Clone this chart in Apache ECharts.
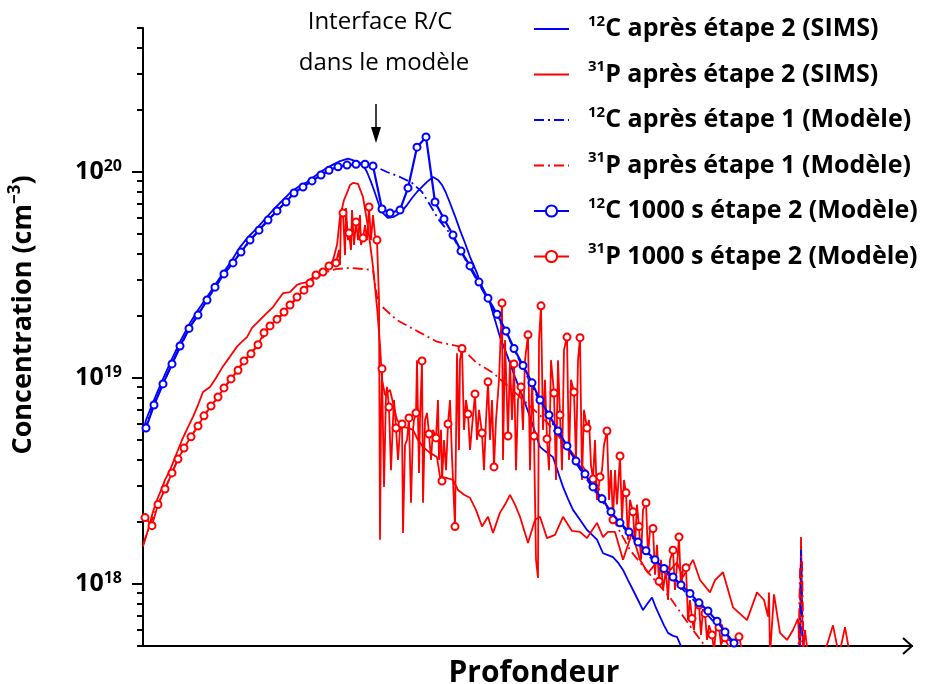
<!DOCTYPE html>
<html>
<head>
<meta charset="utf-8">
<script src="https://cdn.jsdelivr.net/npm/echarts@6/dist/echarts.min.js"></script>
<style>html,body{margin:0;padding:0;background:#fff}#c{width:925px;height:684px}</style>
</head>
<body>
<div id="c"></div>
<script>
// ---------------- DATA (x = depth, arbitrary units; y = concentration, cm^-3) ----------------
const seriesNames = [
  '12C après étape 2 (SIMS)',
  '31P après étape 2 (SIMS)',
  '12C après étape 1 (Modèle)',
  '31P après étape 1 (Modèle)',
  '12C 1000 s étape 2 (Modèle)',
  '31P 1000 s étape 2 (Modèle)'
];
const xAxisName = 'Profondeur';
const yAxisName = 'Concentration (cm';
const yAxisNameSup = '−3';
const annotationLines = ['Interface R/C', 'dans le modèle'];
const interfaceDepth = 233;
const depthMax = 769;
const yMin = 5e17, yMax = 5e20;

const cSims = [
  [0,5.47e18],[3,6.25e18],[7,7.0e18],[14,8.46e18],[22,1.04e19],[30,1.27e19],[38,1.53e19],[47,1.85e19],
  [55,2.14e19],[64,2.47e19],[72,2.83e19],[80,3.23e19],[89,3.74e19],[97,4.32e19],[105,4.83e19],[114,5.34e19],
  [122,5.91e19],[130,6.54e19],[139,7.23e19],[147,7.91e19],[155,8.46e19],[164,8.95e19],[172,9.56e19],[180,1.02e20],
  [189,1.08e20],[197,1.13e20],[205,1.16e20],[215,1.12e20],[220,1.08e20],[224,1.00e20],[228,8.95e19],[232,7.91e19],
  [236,6.91e19],[239,6.39e19],[245,5.98e19],[250,6.04e19],[254,6.18e19],[259,6.47e19],[264,6.91e19],[269,7.48e19],
  [274,8.0e19],[279,8.46e19],[284,8.95e19],[290,9.46e19],[295,9.15e19],[299,8.65e19],[303,7.91e19],[307,7.07e19],
  [312,6.11e19],[317,5.22e19],[322,4.52e19],[327,3.87e19],[334,3.23e19],
  [337,2.92e19],[342,2.58e19],[347,2.31e19],[352,1.91e19],[357,1.58e19],[362,1.37e19],[367,1.18e19],[372,1.01e19],
  [377,8.75e18],[382,7.56e18],[387,6.47e18],[392,5.47e18],[397,4.63e18],[403,4.38e18],[410,4.13e18],[415,3.50e18],
  [420,2.96e18],[425,2.59e18],[430,2.29e18],[437,2.05e18],[444,1.83e18],[454,1.64e18],[460,1.41e18],[465,1.38e18],
  [470,1.35e18],[475,1.27e18],[480,1.17e18],[485,1.045e18],[490,9.35e17],[495,8.36e17],[500,7.47e17],[505,8.1e17],
  [509,8.6e17],[513,7.65e17],[517,6.95e17],[521,6.3e17],[525,5.79e17],[530,5.6e17],[534,5.54e17],[537,5.12e17],[541,4.7e17]
];

const pSims = [
  [0,1.52e18],[5,1.83e18],[10,2.24e18],[14,2.56e18],[19,2.92e18],[22,3.2e18],[27,3.57e18],[33,4.23e18],[39,5.0e18],
  [45,5.78e18],[50,6.47e18],[55,7.39e18],[60,8.55e18],[67,9.05e18],[73,1.0e19],[79,1.12e19],[87,1.27e19],[94,1.42e19],
  [99,1.50e19],[104,1.58e19],[109,1.75e19],[114,1.85e19],[119,1.96e19],[124,2.07e19],[130,2.21e19],[135,2.39e19],
  [140,2.58e19],[147,2.61e19],[154,2.83e19],[159,2.89e19],[164,2.92e19],[169,3.06e19],[174,3.16e19],[179,3.27e19],
  [184,3.34e19],[190,3.74e19],[194,4.42e19],[197,6.04e19],[201,7.31e19],[204,7.91e19],[207,8.65e19],[210,8.85e19],
  [215,8.75e19],[220,7.56e19],[225,5.40e19],[230,3.46e19],[234,2.21e19],[237,1.45e19],[239,9.8e18],[242,8.27e18],
  [247,8.75e18],[254,6.25e18],[260,5.78e18],[265,5.72e18],[270,5.6e18],[275,5.0e18],[280,4.63e18],[287,4.33e18],
  [294,4.13e18],[297,3.31e18],[304,3.27e18],[310,3.2e18],[315,2.86e18],[321,2.71e18],[327,2.62e18],[333,2.29e18],
  [339,1.90e18],[345,2.12e18],[350,1.77e18],[357,2.22e18],[362,2.43e18],[367,2.71e18],[372,2.43e18],[377,2.12e18],
  [385,1.58e18],[392,2.05e18],[397,2.12e18],[404,1.67e18],[412,1.73e18],[420,2.12e18],[429,1.81e18],[437,1.79e18],
  [444,1.67e18],[454,1.98e18],[460,1.69e18],[465,1.79e18],[472,1.79e18],[480,1.31e18],[489,1.77e18],[497,1.31e18],
  [505,1.13e18],[514,1.28e18],[524,1.13e18],[534,1.27e18],[540,1.08e18],[550,1.31e18],[557,1.045e18],[567,9.1e17],
  [572,1.045e18],[580,1.14e18],[590,7.7e17],[604,6.68e17],[614,9.1e17],[621,8.36e17],[625,6.95e17],[626,9.1e17],
  [627,4.5e17],[631,8.9e17],[637,5.79e17],[644,5.35e17],[650,5.98e17],[655,6.8e17],[657,4.5e17],[658,1.69e18],
  [660,4.5e17],[662,5.98e17],[665,4.5e17],[677,4.5e17],[684,5.05e17],[690,6.3e17],[696,4.5e17],[702,6.17e17],[707,4.5e17]
];

const cStep1 = [
  [0,5.47e18],[12,7.65e18],[29,1.17e19],[47,1.77e19],[64,2.39e19],[81,3.2e19],[98,4.09e19],[116,5.22e19],
  [134,6.47e19],[151,7.91e19],[169,9.05e19],[186,1.02e20],[204,1.08e20],[222,1.09e20],[231,1.07e20],[244,1.0e20],
  [257,9.46e19],[269,8.85e19],[279,8.0e19],[287,6.91e19],[296,5.84e19],[310,4.83e19],[327,3.42e19],[345,2.39e19],
  [363,1.66e19],[380,1.12e19],[397,7.65e18],[415,5.41e18],[433,3.87e18],[450,2.9e18],[468,2.2e18],[486,1.75e18],
  [503,1.41e18],[521,1.16e18],[538,9.6e17],[556,7.85e17],[574,6.3e17],[591,5.0e17],[607,4.3e17],[656,3e17],
  [658,1.46e18],[660,3e17]
];

const pStep1 = [
  [0,1.55e18],[7,1.94e18],[15,2.43e18],[22,2.89e18],[35,4.04e18],[48,5.18e18],[61,6.55e18],[75,8.09e18],
  [88,9.9e18],[101,1.21e19],[115,1.45e19],[127,1.77e19],[141,2.07e19],[154,2.44e19],[167,2.86e19],[180,3.23e19],
  [193,3.38e19],[207,3.42e19],[220,3.38e19],[230,3.34e19],[233,2.67e19],[235,2.31e19],[254,1.91e19],[277,1.66e19],
  [294,1.50e19],[317,1.42e19],[334,1.18e19],[350,1.06e19],[377,8.09e18],[402,6.25e18],[427,4.47e18],[454,3.02e18],
  [469,2.12e18],[487,1.46e18],[507,1.11e18],[527,8.6e17],[547,6.25e17],[562,5.0e17],[577,4.2e17],[655,3.5e17],
  [657,1.17e18],[659,1.31e18],[661,3.5e17]
];

const cModel = [
  [3,5.72e18],[11,7.39e18],[20,9.36e18],[29,1.17e19],[37,1.43e19],[46,1.74e19],[55,2.02e19],[64,2.39e19],
  [72,2.76e19],[81,3.20e19],[90,3.62e19],[98,4.09e19],[107,4.67e19],[116,5.22e19],[125,5.84e19],[134,6.47e19],
  [143,7.15e19],[151,7.91e19],[160,8.46e19],[169,9.05e19],[178,9.67e19],[186,1.02e20],[195,1.06e20],[204,1.08e20],
  [213,1.09e20],[222,1.09e20],[230,1.07e20],[239,6.61e19],[247,6.32e19],[257,6.54e19],[265,8.37e19],[274,1.32e20],
  [283,1.48e20],[292,7.15e19],[301,5.91e19],[310,4.94e19],[318,4.13e19],[327,3.50e19],[336,2.92e19],[345,2.44e19],
  [354,2.04e19],[363,1.69e19],[371,1.39e19],[380,1.15e19],[389,9.47e18],[397,7.82e18],[406,6.62e18],[415,5.53e18],
  [424,4.68e18],[433,3.95e18],[442,3.42e18],[450,2.96e18],[459,2.59e18],[468,2.24e18],[477,1.98e18],[486,1.79e18],
  [495,1.60e18],[503,1.45e18],[512,1.31e18],[521,1.19e18],[530,1.08e18],[538,9.9e17],[547,9.0e17],[556,8.1e17],
  [565,7.4e17],[574,6.6e17],[582,5.85e17],[591,5.17e17]
];

// 31P 1000 s: points carrying a circle marker
const pModelMarks = [
  [2,2.10e18],[9,1.92e18],[15,2.43e18],[22,2.89e18],[29,3.46e18],[35,4.04e18],[41,4.57e18],[48,5.18e18],
  [55,5.85e18],[61,6.55e18],[68,7.31e18],[75,8.09e18],[81,8.95e18],[88,9.9e18],[95,1.09e19],[101,1.21e19],
  [108,1.31e19],[115,1.45e19],[121,1.66e19],[127,1.79e19],[134,1.93e19],[141,2.09e19],[147,2.26e19],[154,2.47e19],
  [161,2.67e19],[167,2.89e19],[173,3.16e19],[180,3.27e19],[186,3.50e19],[193,3.62e19],[200,6.32e19],[206,5.05e19],
  [213,5.71e19],[220,4.78e19],[226,6.76e19],[234,4.67e19],[239,1.11e19],[246,7.23e18],[253,5.72e18],[259,5.98e18],
  [266,6.40e18],[273,6.77e18],[279,1.21e19],[286,5.35e18],[293,5.12e18],[299,3.16e18],[305,5.98e18],[312,1.90e18],
  [319,1.39e19],[325,6.69e18],[332,8.37e18],[339,5.41e18],[345,9.58e18],[351,3.70e18],[359,2.31e19],[365,5.23e18],
  [371,1.17e19],[378,9.05e18],[385,1.62e19],[391,5.23e18],[398,2.24e19],[404,5.06e18],[411,8.46e18],[417,6.62e18],
  [424,1.58e19],[431,8.55e18],[437,1.57e19],[444,5.72e18],[450,3.23e18],[457,3.31e18],[464,5.53e18],[470,2.05e18],
  [477,4.18e18],[483,2.77e18],[490,2.24e18],[496,1.90e18],[503,2.48e18],[510,1.86e18],[516,1.03e18],[523,1.17e18],
  [530,1.46e18],[536,1.69e18],[543,1.20e18],[549,6.8e17],[556,7.9e17],[562,7.2e17],[569,5.66e17],[576,6.17e17],
  [582,5.48e17],[596,5.54e17]
];
// 31P 1000 s: intermediate (unmarked) points of the noisy curve
const pModelNoise = [
  [196,4.18e19],[197,3.54e19],[198,6.18e19],[202,3.95e19],[203,6.69e19],[205,4.67e19],[208,4.18e19],[209,6.54e19],
  [211,4.42e19],[215,4.67e19],[217,6.18e19],[218,4.42e19],[222,5.52e19],[224,4.67e19],[228,4.67e19],[230,6.18e19],
  [232,4.94e19],[236,2.39e19],[237,1.64e18],[238,6.25e18],[241,2.96e18],[243,8.27e18],[244,9.05e18],[248,3.57e18],
  [250,6.25e18],[251,7.82e18],[255,4.0e18],[257,5.6e18],[260,1.77e18],[262,4.73e18],[264,5.0e18],[268,2.48e18],
  [270,5.6e18],[271,6.25e18],[274,1.22e19],[276,3.46e18],[277,6.25e18],[280,2.48e18],[282,6.25e18],[284,6.77e18],
  [288,4.0e18],[290,5.6e18],[295,7.82e18],[296,4.0e18],[298,5.6e18],[301,5.0e18],[303,3.57e18],[307,7.82e18],
  [309,4.13e18],[314,1.32e19],[316,4.47e18],[317,1.22e19],[321,5.6e18],[323,7.82e18],[327,4.47e18],[329,5.78e18],
  [334,5.0e18],[336,7.0e18],[341,3.57e18],[343,6.25e18],[347,5.0e18],[349,7.82e18],[353,6.25e18],[356,9.8e18],
  [360,4.0e18],[362,1.53e19],[367,1.22e19],[369,6.25e18],[373,3.57e18],[375,7.82e18],[380,5.6e18],[382,1.22e19],
  [387,3.57e18],[389,9.8e18],[393,1.31e18],[395,1.07e18],[396,1.53e19],[400,5.6e18],[402,9.8e18],[406,3.57e18],
  [408,1.22e19],[413,3.2e18],[415,1.22e19],[419,3.57e18],[421,1.37e19],[426,4.0e18],[428,9.8e18],[433,4.0e18],
  [435,1.22e19],[439,3.2e18],[441,7.0e18],[446,6.25e18],[448,3.78e18],[452,5.0e18],[454,2.56e18],[459,3.57e18],
  [461,4.73e18],[466,2.56e18],[468,3.57e18],[472,3.57e18],[474,2.43e18],[479,2.05e18],[481,3.2e18],[485,1.64e18],
  [487,2.56e18],[492,1.55e18],[494,2.43e18],[498,1.31e18],[500,2.29e18],[505,1.38e18],[507,1.83e18],[512,1.11e18],
  [514,1.55e18],[518,1.31e18],[520,9.35e17],[525,8.36e17],[527,1.31e18],[532,9.35e17],[534,1.24e18],[538,9.35e17],
  [540,1.17e18],[545,6.68e17],[547,8.36e17],[551,5.98e17],[553,8.36e17],[558,5.66e17],[560,7.47e17],[564,5.35e17],
  [566,6.3e17],[571,4.78e17],[573,5.98e17],[578,5.06e17],[580,5.35e17],[587,4.78e17],[592,5.0e17],[599,4.78e17]
];

// ---------------- CHART ----------------
const FONT = '"Open Sans", "DejaVu Sans", sans-serif';
const BLUE = '#0000ff', RED = '#ff0000';
const pModelLine = pModelMarks.concat(pModelNoise).sort((a, b) => a[0] - b[0]);

const chart = echarts.init(document.getElementById('c'), null, { renderer: 'canvas' });

function legendLabel(name) {
  const m = name.match(/^(\d+)(.*)$/);
  return '{sup|' + m[1] + '}{t|' + m[2] + '}';
}

const dashDot = [10, 4, 2, 4];

const option = {
  animation: false,
  backgroundColor: '#fff',
  grid: { left: 143, right: 13, top: 28, bottom: 38 },
  xAxis: {
    type: 'value', min: 0, max: depthMax,
    axisLine: { show: true, lineStyle: { color: '#000', width: 2 } },
    axisTick: { show: false }, axisLabel: { show: false }, splitLine: { show: false }
  },
  yAxis: {
    type: 'log', logBase: 10, min: yMin, max: yMax,
    axisLine: { show: true, lineStyle: { color: '#000', width: 2 } },
    axisTick: { show: false },
    minorTick: { show: false },
    splitLine: { show: false },
    axisLabel: {
      margin: 21,
      formatter: function (v) {
        const e = Math.log10(v);
        if (Math.abs(e - Math.round(e)) > 1e-6) return '';
        return '{b|10}{s|' + Math.round(e) + '}';
      },
      rich: {
        b: { fontSize: 25, fontWeight: 'bold', fontFamily: FONT, color: '#000', lineHeight: 28 },
        s: { fontSize: 16, fontWeight: 'bold', fontFamily: FONT, color: '#000', verticalAlign: 'top', lineHeight: 14 }
      }
    }
  },
  legend: {
    orient: 'vertical', left: 533, top: 14, padding: 0,
    itemWidth: 35, itemHeight: 14, itemGap: 18,
    selectedMode: false,
    data: seriesNames.map((n, i) => i < 4 ? { name: n, itemStyle: { opacity: 0 } } : { name: n }),
    formatter: legendLabel,
    textStyle: {
      color: '#000',
      rich: {
        sup: { fontSize: 15, fontWeight: 'bold', fontFamily: FONT, color: '#000', verticalAlign: 'top', lineHeight: 16, padding: [0, 0, 0, 14] },
        t: { fontSize: 25, fontWeight: 'bold', fontFamily: FONT, color: '#000', lineHeight: 30 }
      }
    }
  },
  series: [
    { name: seriesNames[0], type: 'line', data: cSims, symbol: 'none', z: 2,
      color: BLUE, lineStyle: { color: BLUE, width: 1.8 } },
    { name: seriesNames[1], type: 'line', data: pSims, symbol: 'none', z: 2,
      color: RED, lineStyle: { color: RED, width: 1.8 } },
    { name: seriesNames[2], type: 'line', data: cStep1, symbol: 'none', z: 2,
      color: BLUE, lineStyle: { color: BLUE, width: 1.8, type: dashDot } },
    { name: seriesNames[3], type: 'line', data: pStep1, symbol: 'none', z: 2,
      color: RED, lineStyle: { color: RED, width: 1.8, type: dashDot } },
    { name: seriesNames[4], type: 'line', data: cModel, symbol: 'emptyCircle', symbolSize: 7, showSymbol: true, z: 5,
      color: BLUE, itemStyle: { color: BLUE, borderWidth: 2 }, lineStyle: { color: BLUE, width: 2.2 } },
    { name: seriesNames[5], type: 'line', data: pModelLine, symbol: 'emptyCircle', symbolSize: 7, showSymbol: false, z: 3,
      color: RED, itemStyle: { color: RED, borderWidth: 2 }, lineStyle: { color: RED, width: 1.8 } },
    { name: 'marks31P', type: 'scatter', data: pModelMarks, symbol: 'circle', symbolSize: 7, z: 4,
      itemStyle: { color: '#fff', borderColor: RED, borderWidth: 2, opacity: 1 } }
  ]
};
chart.setOption(option);

// ---------------- decorations (ticks, arrows, texts) ----------------
function toPx(x, y) { return chart.convertToPixel({ gridIndex: 0 }, [x, y]); }
const g = [];
const axisX = toPx(0, 1e20)[0];
for (let e = 17; e <= 20; e++) {
  for (let m = 1; m <= 9; m++) {
    const v = m * Math.pow(10, e);
    if (v < yMin * 0.999 || v > yMax * 1.001) continue;
    const y = Math.round(toPx(0, v)[1]);
    const len = m === 1 ? 11 : 6;
    g.push({ type: 'line', shape: { x1: axisX - len, y1: y, x2: axisX, y2: y }, style: { stroke: '#000', lineWidth: 2 }, z: 10 });
  }
}
const xEnd = toPx(depthMax, yMin);
g.push({ type: 'line', shape: { x1: axisX - 6, y1: xEnd[1], x2: axisX, y2: xEnd[1] }, style: { stroke: '#000', lineWidth: 2 }, z: 10 });
g.push({ type: 'polyline', shape: { points: [[xEnd[0] - 9, xEnd[1] - 8], [xEnd[0], xEnd[1]], [xEnd[0] - 9, xEnd[1] + 8]] },
  style: { stroke: '#000', lineWidth: 2, fill: null }, z: 10 });

const ax = Math.round(toPx(interfaceDepth, yMax)[0]);
g.push({ type: 'line', shape: { x1: ax, y1: 104, x2: ax, y2: 130 }, style: { stroke: '#000', lineWidth: 1.5 }, z: 10 });
g.push({ type: 'polygon', shape: { points: [[ax - 5, 127], [ax + 5, 127], [ax, 143]] }, style: { fill: '#000' }, z: 10 });

g.push({ type: 'text', x: 380, y: 22, z: 10,
  style: { text: annotationLines[0], fontSize: 24, fontFamily: FONT, fill: '#000', align: 'center', verticalAlign: 'middle' } });
g.push({ type: 'text', x: 384, y: 63, z: 10,
  style: { text: annotationLines[1], fontSize: 24, fontFamily: FONT, fill: '#000', align: 'center', verticalAlign: 'middle' } });

g.push({ type: 'text', x: 534, y: 673, z: 10,
  style: { text: xAxisName, fontSize: 30, fontWeight: 'bold', fontFamily: FONT, fill: '#000', align: 'center', verticalAlign: 'middle' } });

g.push({ type: 'text', x: 23, y: 315, rotation: Math.PI / 2, z: 10,
  style: {
    text: '{t|' + yAxisName + '}{s|' + yAxisNameSup + '}{t|)}',
    align: 'center', verticalAlign: 'middle',
    rich: {
      t: { fontSize: 27, fontWeight: 'bold', fontFamily: FONT, fill: '#000', lineHeight: 32 },
      s: { fontSize: 17, fontWeight: 'bold', fontFamily: FONT, fill: '#000', verticalAlign: 'top', lineHeight: 18 }
    }
  } });

chart.setOption({ graphic: g });
</script>
</body>
</html>
